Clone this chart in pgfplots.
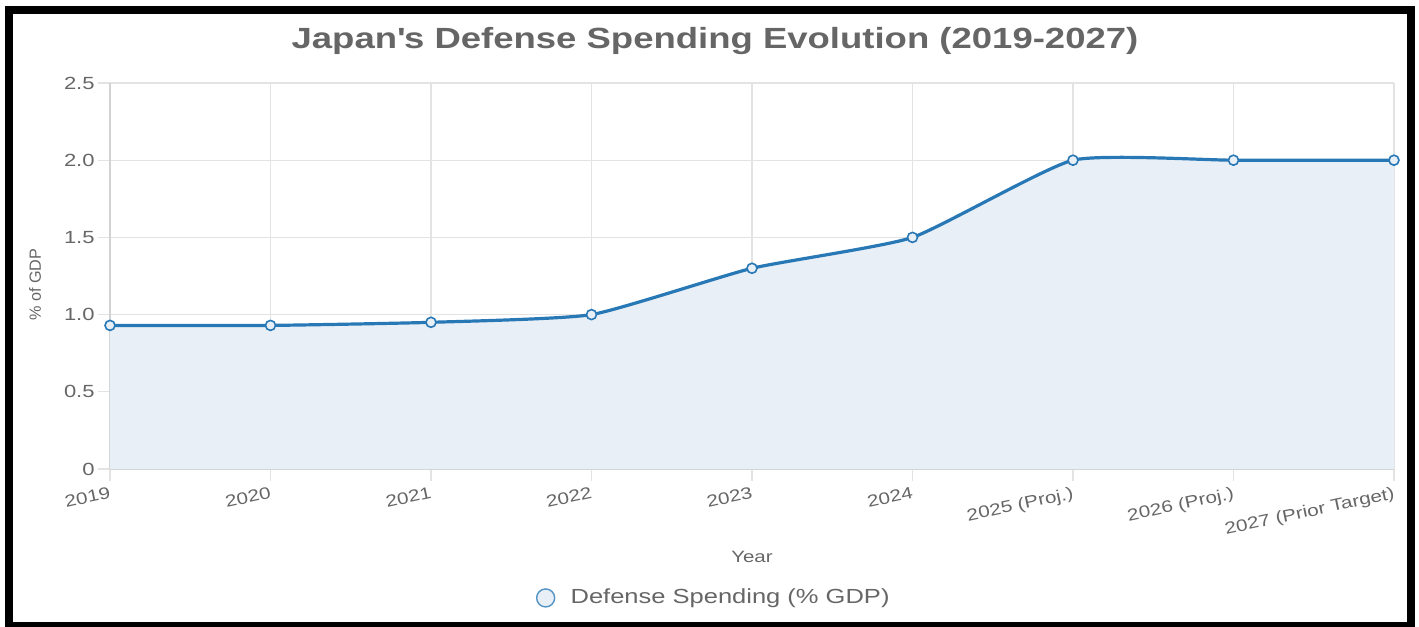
\documentclass[border=0pt]{standalone}
\usepackage{fontspec}
\setmainfont{Liberation Sans}[FakeStretch=1.25]
\newfontfamily\plainsans{Liberation Sans}
\usepackage{pgfplots}
\pgfplotsset{compat=1.18}

\definecolor{txtgray}{HTML}{666666}
\definecolor{gridgray}{HTML}{E3E3E3}
\definecolor{axisgray}{HTML}{D2D2D2}
\definecolor{lineblue}{HTML}{2878B6}
\definecolor{fillblue}{HTML}{E8EFF7}

\begin{document}
\begin{tikzpicture}
% page = 1419x627 px, 1 px = 0.5bp, axis origin at px (110,469)
\useasboundingbox (-55bp,-79bp) rectangle (654.5bp,234.5bp);
\draw[black, line width=4bp] (-50.5bp,-78.5bp) rectangle (650.5bp,229.5bp);

\begin{axis}[
    scale only axis,
    width=642bp, height=193bp,
    xmin=0, xmax=8, ymin=0, ymax=2.5,
    clip=false,
    axis lines=left,
    axis line style={-, draw=axisgray, line width=0.6bp},
    grid=major,
    major grid style={draw=gridgray, line width=0.6bp},
    tick align=outside,
    major tick length=6bp,
    tick style={draw=gridgray, line width=0.6bp},
    xtick={0,...,8},
    xticklabels={2019,2020,2021,2022,2023,2024,2025 (Proj.),2026 (Proj.),2027 (Prior Target)},
    ytick={0,0.5,1,1.5,2,2.5},
    yticklabels={0,0.5,1.0,1.5,2.0,2.5},
    /pgf/number format/assume math mode=true,
    x tick label style={font=\fontsize{8.3bp}{10bp}\selectfont, text=txtgray, rotate=12, anchor=north east, inner sep=1bp, yshift=-1.5bp},
    y tick label style={font=\fontsize{8.8bp}{10bp}\selectfont, text=txtgray, inner sep=1.5bp},
    xlabel={Year},
    xlabel style={at={(axis description cs:0.5,0)}, anchor=center, yshift=-44bp, font=\fontsize{8.2bp}{10bp}\selectfont, text=txtgray},
    ylabel={\% of GDP},
    ylabel style={at={(axis description cs:-0.0584,0.477)}, anchor=center, font=\plainsans\fontsize{8.1bp}{10bp}\selectfont, text=txtgray},
    legend style={at={(axis description cs:0.471,-0.334)}, anchor=center, draw=none, fill=none,
        font=\fontsize{10.2bp}{12bp}\selectfont, text=txtgray, inner sep=0pt},
    legend image code/.code={\draw[fill=fillblue, draw=lineblue!80, line width=0.7bp] (0bp,0bp) circle (4.5bp);
        \path[draw=none, fill=none] (4.5bp,0bp) rectangle (10.5bp,0.1bp);},
]
\addplot[fill=fillblue, draw=none, smooth, tension=0.3, forget plot]
  coordinates {(0,0.93) (1,0.93) (2,0.95) (3,1.00) (4,1.30) (5,1.50) (6,2.00) (7,2.00) (8,2.00)} \closedcycle;
\addplot[draw=lineblue, line width=1.6bp, smooth, tension=0.3,
    mark=*, mark size=2.5bp, mark options={fill=fillblue, draw=lineblue, line width=0.8bp}]
  coordinates {(0,0.93) (1,0.93) (2,0.95) (3,1.00) (4,1.30) (5,1.50) (6,2.00) (7,2.00) (8,2.00)};
\addlegendentry{Defense Spending (\% GDP)}
\end{axis}

\node[font=\bfseries\fontsize{14.6bp}{17bp}\selectfont, text=txtgray] at (302.5bp,214bp) {Japan\textquotesingle s Defense Spending Evolution (2019-2027)};
\end{tikzpicture}
\end{document}
